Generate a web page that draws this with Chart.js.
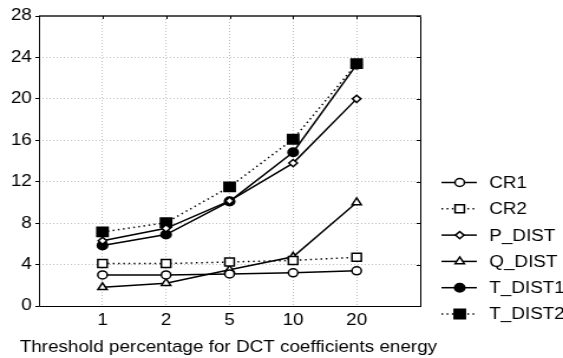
<!DOCTYPE html>
<html><head><meta charset="utf-8">
<script src="https://cdn.jsdelivr.net/npm/chart.js@4/dist/chart.umd.min.js"></script>
<style>
html,body{margin:0;padding:0;background:#fff;overflow:hidden}
#wrap{width:477px;height:358px;transform:scaleX(1.1803);transform-origin:0 0}
canvas{display:block}
</style></head><body>
<div id="wrap"><canvas id="c" width="477" height="358" style="width:477px;height:358px"></canvas></div>
<script>
const categories = ['1', '2', '5', '10', '20'];
const cr1    = [3.0, 3.0, 3.1, 3.2, 3.4];
const cr2    = [4.1, 4.1, 4.25, 4.4, 4.7];
const pDist  = [6.3, 7.5, 10.15, 13.8, 20.0];
const qDist  = [1.8, 2.2, 3.5, 4.75, 10.0];
const tDist1 = [5.85, 6.9, 10.1, 14.85, 23.3];
const tDist2 = [7.15, 8.05, 11.5, 16.1, 23.4];
const yTicks = [0, 4, 8, 12, 16, 20, 24, 28];
const seriesNames = ['CR1', 'CR2', 'P_DIST', 'Q_DIST', 'T_DIST1', 'T_DIST2'];
const xTitle = 'Threshold percentage for DCT coefficients energy';

const FONT = "'Liberation Sans', Arial, sans-serif";
const toPts = arr => arr.map((v, i) => ({x: i + 1, y: v}));

function ds(label, data, style, filled, radius, dotted) {
  return {
    label, data: toPts(data),
    borderColor: '#000', backgroundColor: '#000', borderWidth: 1.5,
    borderDash: dotted ? [1.4, 3] : [],
    pointStyle: style, pointRadius: radius, pointHoverRadius: radius,
    pointBackgroundColor: filled ? '#000' : '#fff',
    pointBorderColor: '#000', pointBorderWidth: 1.5,
    tension: 0, fill: false
  };
}

const datasets = [
  ds(seriesNames[0], cr1, 'circle', false, 4, false),
  ds(seriesNames[1], cr2, 'rect', false, 5.6, true),
  ds(seriesNames[2], pDist, 'rectRot', false, 3.6, false),
  ds(seriesNames[3], qDist, 'triangle', false, 4.5, false),
  ds(seriesNames[4], tDist1, 'circle', true, 4.3, false),
  ds(seriesNames[5], tDist2, 'rect', true, 6.6, true)
];

const framePlugin = {
  id: 'frame',
  beforeDatasetsDraw(chart) {
    const {ctx, chartArea: a, scales} = chart;
    ctx.save();
    ctx.setLineDash([]);
    ctx.strokeStyle = '#000'; ctx.lineWidth = 1;
    ctx.beginPath(); ctx.moveTo(a.right + 0.5, a.top); ctx.lineTo(a.right + 0.5, a.bottom); ctx.stroke();
    ctx.strokeStyle = '#555'; ctx.lineWidth = 2;
    ctx.beginPath(); ctx.moveTo(a.left, a.top); ctx.lineTo(a.right + 1, a.top); ctx.stroke();
    ctx.strokeStyle = '#000'; ctx.lineWidth = 1;
    scales.x.ticks.forEach(t => {
      const x = Math.round(scales.x.getPixelForValue(t.value)) + 0.5;
      ctx.beginPath(); ctx.moveTo(x, a.top); ctx.lineTo(x, a.top + 3); ctx.stroke();
    });
    yTicks.forEach(v => {
      const y = Math.round(scales.y.getPixelForValue(v)) + 0.5;
      ctx.beginPath(); ctx.moveTo(a.right, y); ctx.lineTo(a.right - 3, y); ctx.stroke();
    });
    ctx.beginPath(); ctx.moveTo(a.left + 0.5, a.top); ctx.lineTo(a.left + 0.5, a.bottom + 0.5);
    ctx.lineTo(a.right + 1, a.bottom + 0.5); ctx.stroke();
    ctx.restore();
  }
};

const textPlugin = {
  id: 'sideLegend',
  afterDraw(chart) {
    const {ctx, chartArea: a} = chart;
    const x0 = 374, x1 = 404, xm = 389.5, xt = 414.5;
    const y0 = 182.5, dy = 26.3;
    ctx.save();
    chart.data.datasets.forEach((d, i) => {
      const y = y0 + i * dy;
      ctx.strokeStyle = '#000'; ctx.lineWidth = d.borderWidth;
      ctx.setLineDash(d.borderDash);
      ctx.beginPath(); ctx.moveTo(x0, y); ctx.lineTo(x1, y); ctx.stroke();
      ctx.setLineDash([]);
      ctx.fillStyle = d.pointBackgroundColor; ctx.strokeStyle = '#000'; ctx.lineWidth = d.pointBorderWidth;
      Chart.helpers.drawPoint(ctx, {pointStyle: d.pointStyle, radius: d.pointRadius, rotation: 0, borderWidth: d.pointBorderWidth}, xm, y);
      ctx.fillStyle = '#000'; ctx.font = '16px ' + FONT;
      ctx.textBaseline = 'middle'; ctx.textAlign = 'left';
      ctx.fillText(d.label, xt, y + 1);
    });
    // axis title (drawn without width limit)
    ctx.fillStyle = '#000'; ctx.font = '16px ' + FONT;
    ctx.textAlign = 'center'; ctx.textBaseline = 'alphabetic';
    ctx.fillText(xTitle, 193.5, 351.5);
    ctx.restore();
  }
};

new Chart(document.getElementById('c'), {
  type: 'line',
  data: {datasets},
  options: {
    responsive: false, animation: false, devicePixelRatio: 1,
    layout: {padding: {top: 16, right: 121, left: 0, bottom: 0}},
    plugins: {legend: {display: false}, tooltip: {enabled: false}},
    scales: {
      x: {
        type: 'linear', min: 0, max: 6,
        afterBuildTicks: s => { s.ticks = categories.map((c, i) => ({value: i + 1})); },
        afterFit: s => { s.height = 52; },
        ticks: {
          autoSkip: false, maxRotation: 0, padding: 5,
          color: '#000', font: {family: FONT, size: 16},
          callback: v => categories[v - 1]
        },
        grid: {color: '#bdbdbd', lineWidth: 1, drawTicks: false},
        border: {display: false, dash: [1, 2]},
        title: {display: false}
      },
      y: {
        min: 0, max: 28,
        afterBuildTicks: s => { s.ticks = yTicks.map(v => ({value: v})); },
        afterFit: s => { s.width = 33; },
        ticks: {padding: 3, color: '#000', font: {family: FONT, size: 16}},
        grid: {color: '#bdbdbd', lineWidth: 1, drawTicks: true, tickLength: 3, tickColor: '#000'},
        border: {display: false, dash: [1, 2]}
      }
    }
  },
  plugins: [framePlugin, textPlugin]
});
</script>
</body></html>
